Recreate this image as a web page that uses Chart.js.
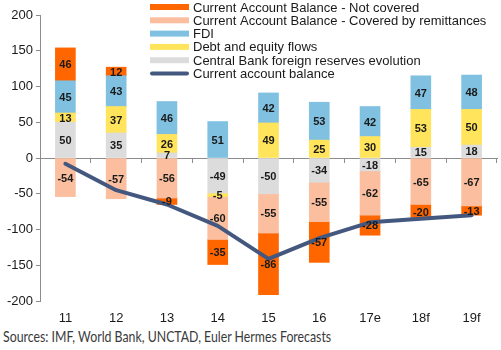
<!DOCTYPE html>
<html>
<head>
<meta charset="utf-8">
<script src="https://cdn.jsdelivr.net/npm/chart.js@4"></script>
<style>
  body { margin: 0; background: #fff; }
  #wrap { position: relative; width: 501px; height: 350px; }
  #source { position: absolute; left: 3px; top: 326px; font: 16px Lato, sans-serif; color: #3a3a3a; white-space: nowrap;
            transform: scaleX(0.77); transform-origin: left top; }
</style>
</head>
<body>
<div id="wrap">
  <canvas id="chart" width="501" height="322"></canvas>
  <div id="source">Sources: IMF, World Bank, UNCTAD, Euler Hermes Forecasts</div>
</div>
<script>
// Data
const years = ['11', '12', '13', '14', '15', '16', '17e', '18f', '19f'];
const notCovered = [46, 12, -9, -35, -86, -57, -28, -20, -13];
const coveredRemit = [-54, -57, -56, -60, -55, -55, -62, -65, -67];
const fdi = [45, 43, 46, 51, 42, 53, 42, 47, 48];
const debtEquity = [13, 37, 26, -5, 49, 25, 30, 53, 50];
const centralBank = [50, 35, 7, -49, -50, -34, -18, 15, 18];
const currentAccount = [-8, -45, -65, -95, -141, -112, -90, -85, -80];
const yTicks = [-200, -150, -100, -50, 0, 50, 100, 150, 200];

const axisColor = '#8c8c8c';

const bar = (label, data, color) => ({
    type: 'bar', label, data, backgroundColor: color, stack: 'flows',
    order: 1, barThickness: 20
});

// Value labels centred inside each bar segment
const valueLabels = {
    id: 'valueLabels',
    afterDatasetsDraw(chart) {
        const ctx = chart.ctx;
        ctx.save();
        ctx.font = 'bold 11px "Liberation Sans", Arial, sans-serif';
        ctx.fillStyle = '#1a1a1a';
        ctx.textAlign = 'center';
        ctx.textBaseline = 'middle';
        chart.data.datasets.forEach((ds, di) => {
            if (ds.type !== 'bar') return;
            chart.getDatasetMeta(di).data.forEach((el, i) => {
                const { x, y, base } = el.getProps(['x', 'y', 'base'], true);
                ctx.fillText(String(ds.data[i]), x, (y + base) / 2 + 1);
            });
        });
        ctx.restore();
    }
};

// Legend drawn over the top right of the plot
const legendOrder = [4, 3, 2, 1, 0, 5];
const overlayLegend = {
    id: 'overlayLegend',
    afterDraw(chart) {
        const ctx = chart.ctx;
        const x0 = 150, y0 = 7, rowH = 13.3, boxW = 39;
        ctx.save();
        ctx.font = '13px "Liberation Sans", Arial, sans-serif';
        ctx.textBaseline = 'middle';
        ctx.fillStyle = '#1a1a1a';
        legendOrder.forEach((di, row) => {
            const ds = chart.data.datasets[di];
            const cy = y0 + row * rowH;
            if (ds.type === 'line') {
                ctx.strokeStyle = ds.borderColor;
                ctx.lineWidth = 4;
                ctx.lineCap = 'round';
                ctx.beginPath();
                ctx.moveTo(x0 + 2, cy);
                ctx.lineTo(x0 + boxW - 2, cy);
                ctx.stroke();
            } else {
                ctx.fillStyle = ds.backgroundColor;
                ctx.fillRect(x0, cy - 3, boxW, 6);
            }
            ctx.fillStyle = '#1a1a1a';
            ctx.fillText(ds.label, x0 + boxW + 4, cy + 1);
        });
        ctx.restore();
    }
};

new Chart(document.getElementById('chart'), {
    data: {
        labels: years,
        datasets: [
            bar('Central Bank foreign reserves evolution', centralBank, '#dcdcdc'),
            bar('Debt and equity flows', debtEquity, '#ffe45c'),
            bar('FDI', fdi, '#80c0e0'),
            bar('Current Account Balance - Covered by remittances', coveredRemit, '#fbbf9f'),
            bar('Current Account Balance - Not covered', notCovered, '#ff6600'),
            {
                type: 'line', label: 'Current account balance', data: currentAccount,
                borderColor: '#44587f', borderWidth: 4, pointRadius: 0, tension: 0,
                stack: 'line', order: 0, borderCapStyle: 'round', borderJoinStyle: 'round'
            }
        ]
    },
    options: {
        responsive: false,
        animation: false,
        layout: { padding: { top: 15, right: 4, left: 0, bottom: 0 } },
        plugins: { legend: { display: false }, tooltip: { enabled: false } },
        scales: {
            x: {
                stacked: true,
                grid: { display: false },
                border: { display: false },
                ticks: { color: '#1a1a1a', font: { size: 13, family: '"Liberation Sans", Arial' }, padding: 2 },
                afterFit: s => { s.height = 21; }
            },
            x0: {
                type: 'category',
                labels: years,
                position: { y: 0 },
                offset: true,
                grid: { offset: true, drawOnChartArea: false, tickLength: 4, color: axisColor },
                border: { color: axisColor },
                ticks: { display: false }
            },
            y: {
                stacked: true,
                min: -200, max: 200,
                afterBuildTicks: s => { s.ticks = yTicks.map(v => ({ value: v })); },
                grid: { drawOnChartArea: false, tickLength: 4, color: axisColor },
                border: { color: axisColor },
                ticks: { color: '#1a1a1a', font: { size: 13, family: '"Liberation Sans", Arial' }, padding: 3 },
                afterFit: s => { s.width = 40; }
            }
        }
    },
    plugins: [valueLabels, overlayLegend]
});
</script>
</body>
</html>
